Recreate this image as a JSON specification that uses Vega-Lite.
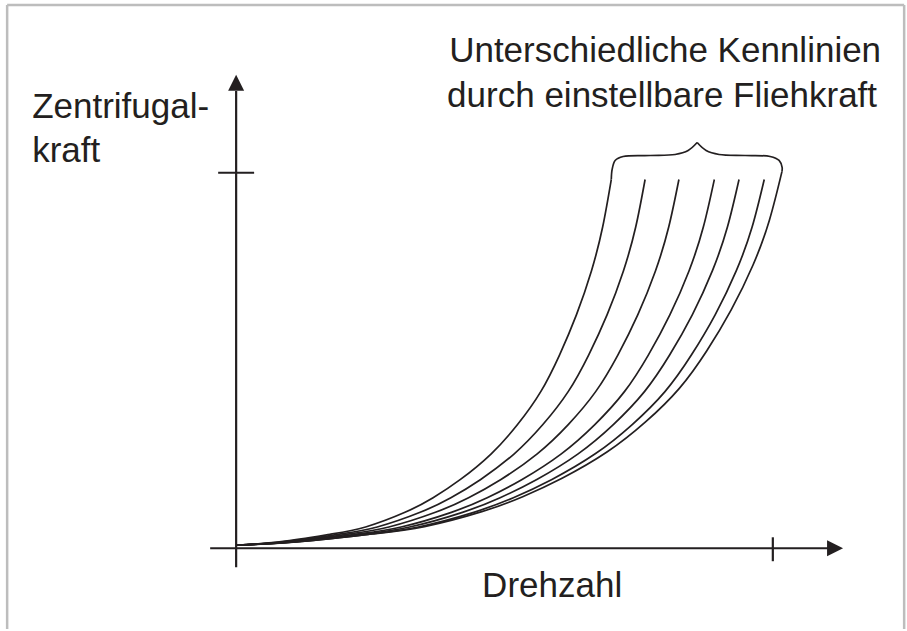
{
  "$schema": "https://vega.github.io/schema/vega-lite/v6.json",
  "width": 907,
  "height": 631,
  "autosize": {"type": "fit", "contains": "padding"},
  "padding": 0,
  "background": "white",
  "config": {"view": {"stroke": null}},
  "datasets": {
    "frame": [
      {"x1": -42.67, "x2": -42.67, "y1": -21.5, "y2": 144.7},
      {"x1": -42.67, "x2": 124.47, "y1": 144.7, "y2": 144.7},
      {"x1": 124.47, "x2": 124.47, "y1": -21.5, "y2": 144.7}
    ],
    "axes": [
      {"x1": -4.84, "x2": 110.3, "y1": 0, "y2": 0},
      {"x1": 0, "x2": 0, "y1": -5.04, "y2": 121.8},
      {"x1": -3.35, "x2": 3.35, "y1": 100, "y2": 100},
      {"x1": 100, "x2": 100, "y1": 2.92, "y2": -3.45}
    ],
    "arrows": [
      {"dir": "right", "X": 111.6, "Y": 0},
      {"dir": "up", "X": 0, "Y": 123.97}
    ],
    "curves": [
      {"c": 1, "X": 0, "Y": 0.8}, {"c": 1, "X": 8.39, "Y": 1.77}, {"c": 1, "X": 17.48, "Y": 3.72}, {"c": 1, "X": 24.12, "Y": 5.67}, {"c": 1, "X": 31.46, "Y": 9.57}, {"c": 1, "X": 36.7, "Y": 13.46}, {"c": 1, "X": 41.8, "Y": 18.33}, {"c": 1, "X": 47.53, "Y": 25.15}, {"c": 1, "X": 52.43, "Y": 32.94}, {"c": 1, "X": 56.76, "Y": 41.71}, {"c": 1, "X": 60.25, "Y": 51.45}, {"c": 1, "X": 63.4, "Y": 62.16}, {"c": 1, "X": 66.2, "Y": 73.85}, {"c": 1, "X": 68.29, "Y": 85.54}, {"c": 1, "X": 69.9, "Y": 98.2},
      {"c": 2, "X": 0, "Y": 0.8}, {"c": 2, "X": 9.14, "Y": 1.77}, {"c": 2, "X": 19.05, "Y": 3.72}, {"c": 2, "X": 26.29, "Y": 5.67}, {"c": 2, "X": 34.29, "Y": 9.57}, {"c": 2, "X": 40.01, "Y": 13.46}, {"c": 2, "X": 45.57, "Y": 18.33}, {"c": 2, "X": 51.82, "Y": 25.15}, {"c": 2, "X": 57.15, "Y": 32.94}, {"c": 2, "X": 61.87, "Y": 41.71}, {"c": 2, "X": 65.68, "Y": 51.45}, {"c": 2, "X": 69.11, "Y": 62.16}, {"c": 2, "X": 72.16, "Y": 73.85}, {"c": 2, "X": 74.45, "Y": 85.54}, {"c": 2, "X": 76.2, "Y": 98.2},
      {"c": 3, "X": 0, "Y": 0.8}, {"c": 3, "X": 9.9, "Y": 1.77}, {"c": 3, "X": 20.63, "Y": 3.72}, {"c": 3, "X": 28.46, "Y": 5.67}, {"c": 3, "X": 37.13, "Y": 9.57}, {"c": 3, "X": 43.31, "Y": 13.46}, {"c": 3, "X": 49.34, "Y": 18.33}, {"c": 3, "X": 56.1, "Y": 25.15}, {"c": 3, "X": 61.88, "Y": 32.94}, {"c": 3, "X": 66.99, "Y": 41.71}, {"c": 3, "X": 71.12, "Y": 51.45}, {"c": 3, "X": 74.83, "Y": 62.16}, {"c": 3, "X": 78.13, "Y": 73.85}, {"c": 3, "X": 80.6, "Y": 85.54}, {"c": 3, "X": 82.5, "Y": 98.2},
      {"c": 4, "X": 0, "Y": 0.8}, {"c": 4, "X": 10.69, "Y": 1.77}, {"c": 4, "X": 22.28, "Y": 3.72}, {"c": 4, "X": 30.74, "Y": 5.67}, {"c": 4, "X": 40.1, "Y": 9.57}, {"c": 4, "X": 46.78, "Y": 13.46}, {"c": 4, "X": 53.28, "Y": 18.33}, {"c": 4, "X": 60.59, "Y": 25.15}, {"c": 4, "X": 66.83, "Y": 32.94}, {"c": 4, "X": 72.35, "Y": 41.71}, {"c": 4, "X": 76.8, "Y": 51.45}, {"c": 4, "X": 80.81, "Y": 62.16}, {"c": 4, "X": 84.38, "Y": 73.85}, {"c": 4, "X": 87.05, "Y": 85.54}, {"c": 4, "X": 89.1, "Y": 98.2},
      {"c": 5, "X": 0, "Y": 0.8}, {"c": 5, "X": 11.24, "Y": 1.77}, {"c": 5, "X": 23.43, "Y": 3.72}, {"c": 5, "X": 32.33, "Y": 5.67}, {"c": 5, "X": 42.17, "Y": 9.57}, {"c": 5, "X": 49.19, "Y": 13.46}, {"c": 5, "X": 56.03, "Y": 18.33}, {"c": 5, "X": 63.72, "Y": 25.15}, {"c": 5, "X": 70.28, "Y": 32.94}, {"c": 5, "X": 76.08, "Y": 41.71}, {"c": 5, "X": 80.77, "Y": 51.45}, {"c": 5, "X": 84.99, "Y": 62.16}, {"c": 5, "X": 88.73, "Y": 73.85}, {"c": 5, "X": 91.54, "Y": 85.54}, {"c": 5, "X": 93.7, "Y": 98.2},
      {"c": 6, "X": 0, "Y": 0.8}, {"c": 6, "X": 11.81, "Y": 1.77}, {"c": 6, "X": 24.6, "Y": 3.72}, {"c": 6, "X": 33.95, "Y": 5.67}, {"c": 6, "X": 44.28, "Y": 9.57}, {"c": 6, "X": 51.66, "Y": 13.46}, {"c": 6, "X": 58.84, "Y": 18.33}, {"c": 6, "X": 66.91, "Y": 25.15}, {"c": 6, "X": 73.8, "Y": 32.94}, {"c": 6, "X": 79.9, "Y": 41.71}, {"c": 6, "X": 84.82, "Y": 51.45}, {"c": 6, "X": 89.25, "Y": 62.16}, {"c": 6, "X": 93.18, "Y": 73.85}, {"c": 6, "X": 96.14, "Y": 85.54}, {"c": 6, "X": 98.4, "Y": 98.2},
      {"c": 7, "X": 0, "Y": 0.8}, {"c": 7, "X": 12.2, "Y": 1.8}, {"c": 7, "X": 25.43, "Y": 3.79}, {"c": 7, "X": 35.09, "Y": 5.78}, {"c": 7, "X": 45.77, "Y": 9.76}, {"c": 7, "X": 53.39, "Y": 13.74}, {"c": 7, "X": 60.82, "Y": 18.71}, {"c": 7, "X": 69.16, "Y": 25.68}, {"c": 7, "X": 76.28, "Y": 33.64}, {"c": 7, "X": 82.58, "Y": 42.59}, {"c": 7, "X": 87.67, "Y": 52.54}, {"c": 7, "X": 92.24, "Y": 63.49}, {"c": 7, "X": 96.31, "Y": 75.43}, {"c": 7, "X": 99.36, "Y": 87.37}, {"c": 7, "X": 101.7, "Y": 100.3}
    ],
    "brace": [
      {"part": "L", "i": 1, "X": 69.9, "Y": 98.2},
      {"part": "L", "i": 2, "X": 70.06, "Y": 100.88},
      {"part": "L", "i": 3, "X": 70.62, "Y": 103.27},
      {"part": "L", "i": 4, "X": 72.11, "Y": 104.33},
      {"part": "L", "i": 5, "X": 77.14, "Y": 104.59},
      {"part": "L", "i": 6, "X": 81.8, "Y": 104.86},
      {"part": "L", "i": 7, "X": 84.22, "Y": 105.92},
      {"part": "L", "i": 8, "X": 85.9, "Y": 108.04},
      {"part": "R", "i": 1, "X": 85.9, "Y": 108.04},
      {"part": "R", "i": 2, "X": 87.57, "Y": 105.92},
      {"part": "R", "i": 3, "X": 89.99, "Y": 104.86},
      {"part": "R", "i": 4, "X": 94.84, "Y": 104.59},
      {"part": "R", "i": 5, "X": 99.5, "Y": 104.33},
      {"part": "R", "i": 6, "X": 101.17, "Y": 103.27},
      {"part": "R", "i": 7, "X": 101.73, "Y": 101.41},
      {"part": "R", "i": 8, "X": 101.7, "Y": 100.3}
    ],
    "labelsLeft": [
      {"t": "Zentrifugal-", "X": -38.01, "Y": 114.68},
      {"t": "kraft", "X": -38.01, "Y": 102.73},
      {"t": "Unterschiedliche Kennlinien", "X": 39.69, "Y": 129.55},
      {"t": "durch einstellbare Fliehkraft", "X": 39.31, "Y": 117.6}
    ],
    "labelsCenter": [
      {"t": "Drehzahl", "X": 58.88, "Y": -13.01}
    ]
  },
  "layer": [
    {
      "data": {"name": "frame"},
      "mark": {"type": "rule", "color": "#bdbdbd", "strokeWidth": 2.5},
      "encoding": {
        "x": {"field": "x1", "type": "quantitative", "scale": {"domain": [-44, 125], "nice": false, "zero": false}, "axis": null},
        "x2": {"field": "x2"},
        "y": {"field": "y1", "type": "quantitative", "scale": {"domain": [-21.5, 146], "nice": false, "zero": false}, "axis": null},
        "y2": {"field": "y2"}
      }
    },
    {
      "data": {"name": "axes"},
      "mark": {"type": "rule", "color": "#231f20", "strokeWidth": 2.2},
      "encoding": {
        "x": {"field": "x1", "type": "quantitative", "scale": {"domain": [-44, 125], "nice": false, "zero": false}, "axis": null},
        "x2": {"field": "x2"},
        "y": {"field": "y1", "type": "quantitative", "scale": {"domain": [-21.5, 146], "nice": false, "zero": false}, "axis": null},
        "y2": {"field": "y2"}
      }
    },
    {
      "data": {"name": "arrows"},
      "mark": {"type": "point", "filled": true, "color": "#231f20", "size": 256, "opacity": 1, "strokeWidth": 0},
      "encoding": {
        "x": {"field": "X", "type": "quantitative", "scale": {"domain": [-44, 125], "nice": false, "zero": false}, "axis": null},
        "y": {"field": "Y", "type": "quantitative", "scale": {"domain": [-21.5, 146], "nice": false, "zero": false}, "axis": null},
        "shape": {"field": "dir", "type": "nominal", "scale": {"domain": ["right", "up"], "range": ["M-1,-1L1,0L-1,1Z", "M-1,1L0,-1L1,1Z"]}, "legend": null}
      }
    },
    {
      "data": {"name": "curves"},
      "mark": {"type": "line", "color": "#231f20", "strokeWidth": 1.7, "interpolate": "natural"},
      "encoding": {
        "x": {"field": "X", "type": "quantitative", "scale": {"domain": [-44, 125], "nice": false, "zero": false}, "axis": null},
        "y": {"field": "Y", "type": "quantitative", "scale": {"domain": [-21.5, 146], "nice": false, "zero": false}, "axis": null},
        "detail": {"field": "c", "type": "nominal"}
      }
    },
    {
      "data": {"name": "brace"},
      "mark": {"type": "line", "color": "#231f20", "strokeWidth": 1.7, "interpolate": "catmull-rom"},
      "encoding": {
        "x": {"field": "X", "type": "quantitative", "scale": {"domain": [-44, 125], "nice": false, "zero": false}, "axis": null},
        "y": {"field": "Y", "type": "quantitative", "scale": {"domain": [-21.5, 146], "nice": false, "zero": false}, "axis": null},
        "detail": {"field": "part", "type": "nominal"},
        "order": {"field": "i", "type": "quantitative"}
      }
    },
    {
      "data": {"name": "labelsLeft"},
      "mark": {"type": "text", "font": "Liberation Sans", "fontSize": 35, "color": "#231f20", "baseline": "alphabetic", "align": "left"},
      "encoding": {
        "x": {"field": "X", "type": "quantitative", "scale": {"domain": [-44, 125], "nice": false, "zero": false}, "axis": null},
        "y": {"field": "Y", "type": "quantitative", "scale": {"domain": [-21.5, 146], "nice": false, "zero": false}, "axis": null},
        "text": {"field": "t", "type": "nominal"}
      }
    },
    {
      "data": {"name": "labelsCenter"},
      "mark": {"type": "text", "font": "Liberation Sans", "fontSize": 35, "color": "#231f20", "baseline": "alphabetic", "align": "center"},
      "encoding": {
        "x": {"field": "X", "type": "quantitative", "scale": {"domain": [-44, 125], "nice": false, "zero": false}, "axis": null},
        "y": {"field": "Y", "type": "quantitative", "scale": {"domain": [-21.5, 146], "nice": false, "zero": false}, "axis": null},
        "text": {"field": "t", "type": "nominal"}
      }
    }
  ]
}
